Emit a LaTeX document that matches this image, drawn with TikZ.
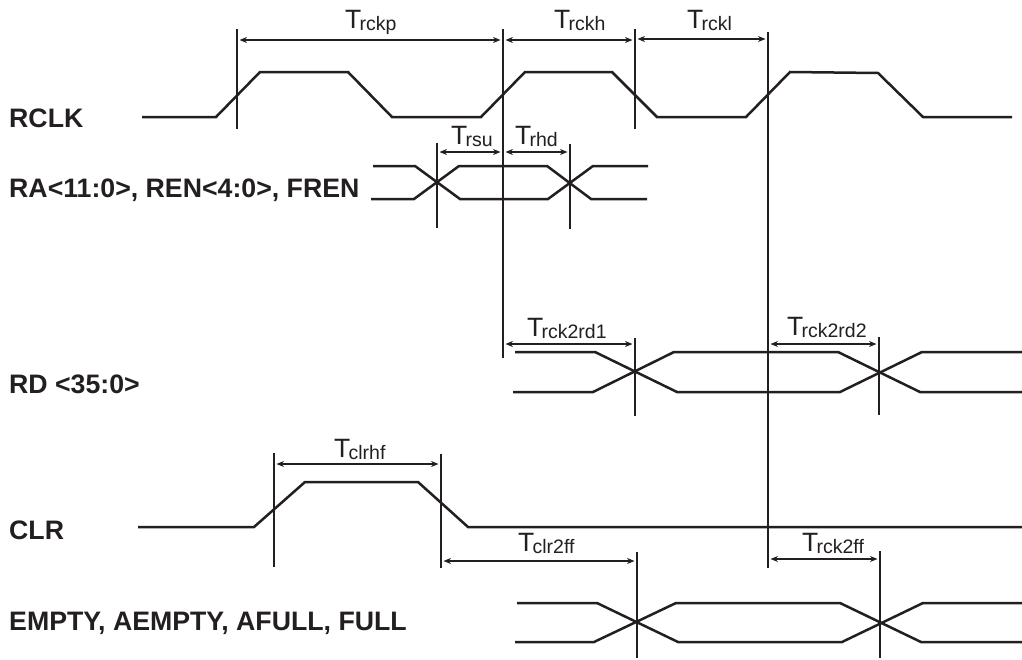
\documentclass[tikz,border=0pt]{standalone}
\usepackage{fontspec}
\setmainfont{Liberation Sans}
\usetikzlibrary{arrows.meta}
\definecolor{ink}{HTML}{231F20}
\newcommand{\Tsub}[1]{T\kern-1.8pt\raisebox{-2.2pt}{\fontsize{19.5}{19.5}\selectfont #1}}
\newcommand{\vtick}[4]{\coordinate (#1t) at (#2,#3);\coordinate (#1b) at (#2,#4);\draw[tick] (#1t)--(#1b);}
\tikzset{
  wave/.style={draw=ink,line width=2.5pt,line join=miter},
  tick/.style={draw=ink,line width=2.5pt},
  dim/.style={draw=ink,line width=1.8pt,{Stealth[length=7.5pt,width=6pt]}-{Stealth[length=7.5pt,width=6pt]},shorten >=2.5pt,shorten <=2.5pt},
  sig/.style={anchor=base west,inner sep=0pt,text=ink,font=\bfseries\fontsize{26.7}{26.7}\selectfont},
  tim/.style={anchor=base west,inner sep=0pt,text=ink,font=\fontsize{26.5}{26.5}\selectfont},
}
\begin{document}
\begin{tikzpicture}[x=1pt,y=-1pt]
\useasboundingbox[fill=white] (0,0) rectangle (1022,659);
% signal names
\node[sig] (nRCLK) at (9,127) {RCLK};
\node[sig] (nRA) at (9,197) {RA<11:0>, REN<4:0>, FREN};
\node[sig] (nRD) at (9,393) {RD <35:0>};
\node[sig] (nCLR) at (9,539) {CLR};
\node[sig] (nFF) at (9,630) {EMPTY, AEMPTY, AFULL, FULL};
% waveforms
\draw[wave] (142,117)--(216,117)--(260,72)--(348,72)--(392,117)--(481,117)--(525,72)--(612,72)--(657,117)--(746,117)--(790,72)--(878,73)--(923,117)--(1012,117);
\draw[wave] (373,166)--(415,166)--(460,199)--(548,199)--(593,166)--(648,166);
\draw[wave] (371,199)--(414,199)--(459,166)--(547,166)--(591,199)--(647,199);
\draw[wave] (515,352)--(595,352)--(677,392)--(840,392)--(922,352)--(1022,352);
\draw[wave] (513,392)--(593,392)--(674,352)--(838,352)--(920,392)--(1022,392);
\draw[wave] (138,527)--(254,527)--(305,482)--(418,482)--(468,527)--(1022,527);
\draw[wave] (517,603)--(597,603)--(678,642)--(842,642)--(923,603)--(1022,603);
\draw[wave] (515,642)--(594,642)--(676,603)--(840,603)--(921,642)--(1022,642);
% vertical reference lines
\vtick{A}{237}{29}{129}
\vtick{B}{503}{29}{358}
\vtick{C}{635}{29}{129}
\vtick{D}{768}{32}{568}
\vtick{E}{437}{143}{228}
\vtick{F}{570}{144}{229}
\vtick{G}{635}{338}{416}
\vtick{H}{879}{337}{415}
\vtick{I}{274}{453}{567}
\vtick{J}{441}{454}{568}
\vtick{K}{637}{552}{658}
\vtick{L}{880}{551}{658}
% dimension ends
\coordinate (d1a) at (237,40); \coordinate (d1b) at (503,40);
\coordinate (d2a) at (503,40); \coordinate (d2b) at (635,40);
\coordinate (d3a) at (635,39); \coordinate (d3b) at (768,39);
\coordinate (d4a) at (437,152); \coordinate (d4b) at (503,152);
\coordinate (d5a) at (503,152); \coordinate (d5b) at (570,152);
\coordinate (d6a) at (503,344); \coordinate (d6b) at (635,344);
\coordinate (d7a) at (768,344); \coordinate (d7b) at (879,344);
\coordinate (d8a) at (274,464); \coordinate (d8b) at (441,464);
\coordinate (d9a) at (441,561); \coordinate (d9b) at (637,561);
\coordinate (d10a) at (768,559); \coordinate (d10b) at (880,559);
\foreach \i in {1,...,10} {\draw[dim] (d\i a)--(d\i b);}
% timing labels
\node[tim] (tA) at (345,28) {\Tsub{rckp}};
\node[tim] (tB) at (554,28) {\Tsub{rckh}};
\node[tim] (tC) at (687,28) {\Tsub{rckl}};
\node[tim] (tD) at (451,144) {\Tsub{rsu}};
\node[tim] (tE) at (515,144) {\Tsub{rhd}};
\node[tim] (tF) at (527,336) {\Tsub{rck2rd1}};
\node[tim] (tG) at (787,335) {\Tsub{rck2rd2}};
\node[tim] (tH) at (334,457) {\Tsub{clrhf}};
\node[tim] (tI) at (518,551) {\Tsub{clr2ff}};
\node[tim] (tJ) at (802,551) {\Tsub{rck2ff}};
\end{tikzpicture}
\end{document}
